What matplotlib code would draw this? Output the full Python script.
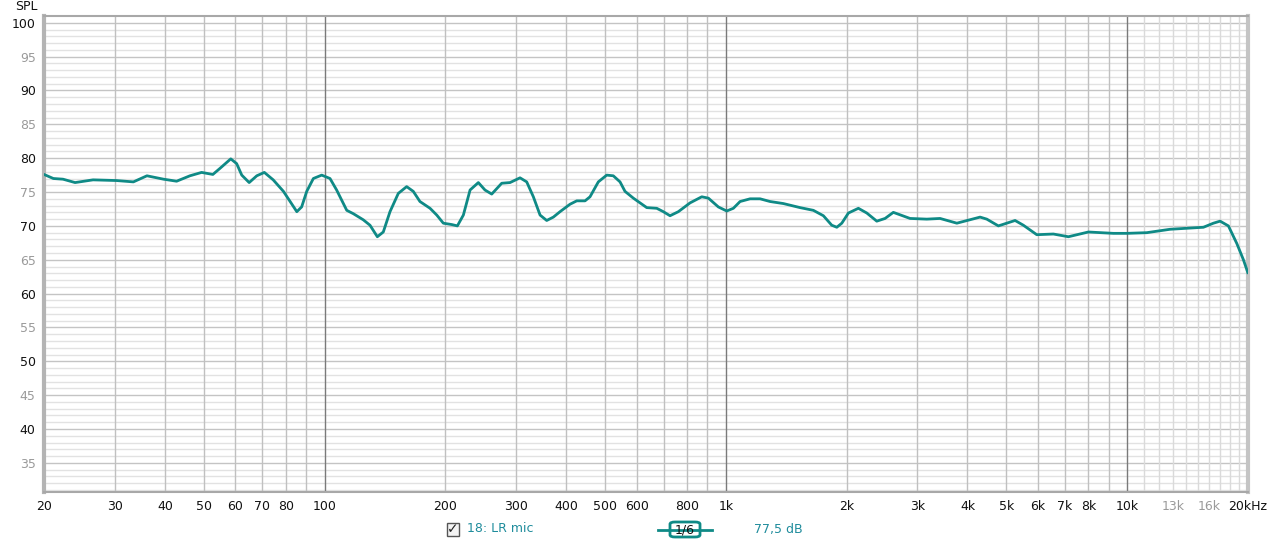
import numpy as np
import matplotlib
matplotlib.use('Agg')
import matplotlib.pyplot as plt
from matplotlib.patches import FancyBboxPatch, Rectangle
from matplotlib.lines import Line2D

# frequency response (Hz, dB SPL)
freq = [20, 21.1, 22.3, 23.9, 26.5, 30.3, 33.4, 36.1, 39.7, 42.8, 46.2, 49.4, 52.7,
        54.9, 58.4, 60.4, 62.2, 64.9, 67.8, 70.8, 74.5, 79.0, 82.1, 85.3, 87.7,
        90.3, 93.8, 98.4, 103.2, 107.2, 113.6, 118.0, 124.9, 129.8, 135.4, 140.1,
        145.6, 152.7, 160.2, 166.4, 172.9, 183.2, 190.4, 197.7, 207.5, 214.3,
        221.8, 230.5, 241.7, 251.1, 261.0, 276.4, 289.9, 307.0, 319.0, 331.4,
        344.4, 357.8, 371.7, 386.2, 409.0, 425.1, 445.8, 458.7, 481.1, 504.8,
        524.3, 544.9, 560.7, 588.1, 635.2, 672.7, 698.6, 726.0, 761.4, 814.4,
        870.9, 904.6, 957.9, 1005, 1044, 1085, 1149, 1217, 1289, 1391, 1531,
        1652, 1750, 1836, 1890, 1945, 2020, 2139, 2245, 2377, 2493, 2614, 2877,
        3167, 3418, 3763, 4300, 4468, 4776, 5256, 5512, 5953, 6547, 7138, 8005,
        9239, 9977, 11192, 12787, 15488, 16400, 17042, 17873, 18757, 19481, 19977]
spl = [77.6, 77.0, 76.9, 76.4, 76.8, 76.7, 76.5, 77.4, 76.9, 76.6, 77.4, 77.9, 77.6,
       78.5, 79.9, 79.2, 77.5, 76.4, 77.4, 77.9, 76.8, 75.1, 73.6, 72.1, 72.8,
       75.1, 77.0, 77.5, 77.0, 75.3, 72.3, 71.8, 70.9, 70.1, 68.4, 69.1,
       72.1, 74.8, 75.8, 75.1, 73.6, 72.6, 71.6, 70.4, 70.2, 70.0,
       71.6, 75.3, 76.4, 75.3, 74.7, 76.3, 76.4, 77.1, 76.5, 74.3,
       71.6, 70.8, 71.3, 72.1, 73.2, 73.7, 73.7, 74.3, 76.5, 77.5,
       77.4, 76.5, 75.1, 74.1, 72.7, 72.6, 72.1, 71.5, 72.1, 73.4,
       74.3, 74.1, 72.8, 72.2, 72.6, 73.6, 74.0, 74.0, 73.6, 73.3, 72.7,
       72.3, 71.5, 70.1, 69.8, 70.4, 71.9, 72.6, 71.9, 70.7, 71.1, 72.0, 71.1,
       71.0, 71.1, 70.4, 71.3, 71.0, 70.0, 70.8, 70.1, 68.7, 68.8, 68.4, 69.1,
       68.9, 68.9, 69.0, 69.5, 69.8, 70.4, 70.7, 70.0, 67.4, 65.0, 63.1]

xticks = [20, 30, 40, 50, 60, 70, 80, 100, 200, 300, 400, 500, 600, 800, 1000,
          2000, 3000, 4000, 5000, 6000, 7000, 8000, 10000, 13000, 16000, 20000]
xlabels = ['20', '30', '40', '50', '60', '70', '80', '100', '200', '300', '400',
           '500', '600', '800', '1k', '2k', '3k', '4k', '5k', '6k', '7k', '8k',
           '10k', '13k', '16k', '20kHz']
yticks = list(range(35, 101, 5))

teal = '#0f8a86'
txt_teal = '#1f8c9c'

fig = plt.figure(figsize=(12.7, 5.44), dpi=100)
ax = fig.add_axes([44/1270, 1-492/544, (1248-44)/1270, (492-16)/544])
ax.set_xscale('log')
ax.set_xlim(20, 20000)
ax.set_ylim(30.7, 101)

# grid
for d in range(31, 101):
    c = '#c4c4c4' if d % 5 == 0 else '#e2e2e2'
    ax.axhline(d, color=c, lw=1, zorder=0)
for dec in [10, 100, 1000]:
    for m in range(2, 10):
        f = dec * m
        if 20 <= f <= 9000:
            ax.axvline(f, color='#c0c0c0', lw=1, zorder=0)
for f in [100, 1000, 10000]:
    ax.axvline(f, color='#7a7a7a', lw=1, zorder=0.5)
for f in range(11000, 20000, 1000):
    ax.axvline(f, color='#dadada', lw=1, zorder=0)

ax.plot(freq, spl, color=teal, lw=2, solid_joinstyle='round', zorder=3)

ax.set_xticks(xticks)
ax.set_xticklabels(xlabels)
ax.minorticks_off()
ax.set_xticks([], minor=True)
ax.set_yticks(yticks)
ax.set_yticklabels([str(v) for v in yticks])
ax.tick_params(length=0, labelsize=9, pad=6)
for lab, f in zip(ax.get_xticklabels(), xticks):
    lab.set_color('#9a9a9a' if f in (13000, 16000) else '#111111')
for lab, v in zip(ax.get_yticklabels(), yticks):
    lab.set_color('#111111' if v % 10 == 0 else '#9a9a9a')

for s in ax.spines.values():
    s.set_color('#a8a8a8')
    s.set_linewidth(1.5)
ax.spines['left'].set_linewidth(3)
ax.spines['right'].set_linewidth(3)
ax.spines['left'].set_color('#b4b4b4')
ax.spines['right'].set_color('#c4c4c4')

fig.text(15/1270, 1-7/544, 'SPL', fontsize=9, va='center', ha='left', color='#111111')

# legend strip
fig.patches.append(Rectangle((447/1270, 1-536/544), 12/1270, 13/544,
                             transform=fig.transFigure, facecolor='#f4f4f4',
                             edgecolor='#555555', lw=1))
fig.text(453/1270, 1-529/544, '✓', fontsize=10, ha='center', va='center', color='#222222')
fig.text(467/1270, 1-529/544, '18: LR mic', fontsize=9, ha='left', va='center', color=txt_teal)
fig.lines.append(Line2D([658/1270, 712/1270], [1-530/544, 1-530/544],
                        transform=fig.transFigure, color=teal, lw=2))
fig.patches.append(FancyBboxPatch((670/1270, 1-537/544), 30/1270, 15/544,
                                  boxstyle='round,pad=0,rounding_size=0.004',
                                  transform=fig.transFigure, facecolor='white',
                                  edgecolor=teal, lw=2))
fig.text(685/1270, 1-530/544, '1/6', fontsize=9, ha='center', va='center', color='#111111')
fig.text(754/1270, 1-529/544, '77,5 dB', fontsize=9, ha='left', va='center', color=txt_teal)

fig.savefig('out.png', dpi=100)
